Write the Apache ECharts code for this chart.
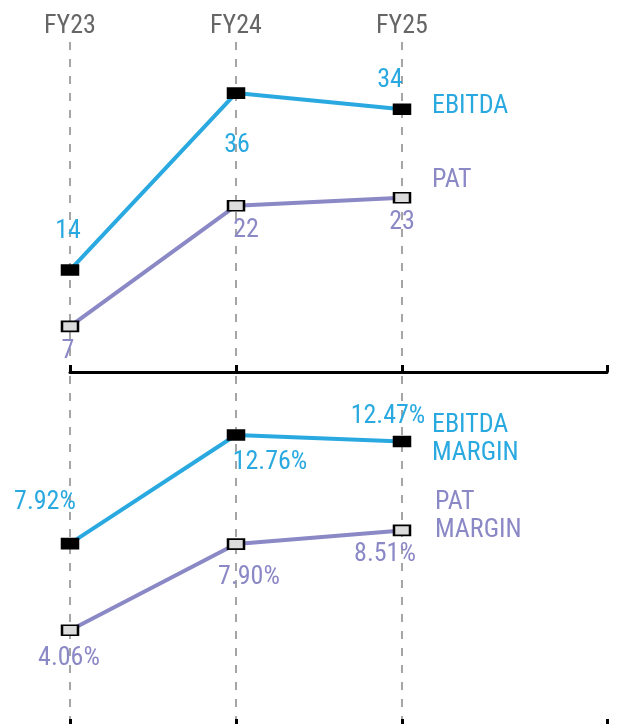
<!DOCTYPE html>
<html><head><meta charset="utf-8">
<script src="https://cdn.jsdelivr.net/npm/echarts@6/dist/echarts.min.js"></script>
<style>html,body{margin:0;padding:0;background:#fff}#c{width:619px;height:724px}</style>
</head><body><div id="c"></div>
<script>
const categories = ['FY23', 'FY24', 'FY25'];
const ebitda = [14, 36, 34];
const pat = [7, 22, 23];
const ebitdaMargin = [7.92, 12.76, 12.47];
const patMargin = [4.06, 7.90, 8.51];

// label offsets (style only)
const offEbitda = [[-2, -39], [1, 52], [-12, -29]];
const offPat = [[-2, 25], [10, 25], [0, 25]];
const offEbitdaM = [[-25, -41], [34, 27], [-14, -25]];
const offPatM = [[-1, 28], [13, 33], [-17, 24]];

function hasFont(f){
  const c=document.createElement('canvas').getContext('2d');
  const t='FY23 EBITDA 12.76% MARGIN';
  c.font='40px monospace'; const a=c.measureText(t).width;
  c.font='40px "'+f+'", monospace'; const b=c.measureText(t).width;
  return Math.abs(a-b)>0.5;
}
let FONT = 'Roboto';
for (const f of ['Roboto Condensed','Liberation Sans Narrow','DejaVu Sans Condensed']) { if (hasFont(f)) { FONT = '"'+f+'"'; break; } }

const BLUE = '#29A9E0', PURPLE = '#8B88C6';
const XMAX = 3.235;

function xs(vals, off){
  return vals.map((v,i)=>({value:[i,v], label:{offset:off[i]}}));
}
function bottomAxis(g){
  return {type:'value', gridIndex:g, min:0, max:XMAX, position:'bottom',
    axisLine:{show:true, onZero:false, lineStyle:{color:'#000', width:3}},
    axisTick:{show:true, inside:true, length:7, customValues:[0,1,2,XMAX], lineStyle:{color:'#000', width:3}},
    axisLabel:{show:false}, splitLine:{show:false}};
}
function topAxis(g, showLabels){
  return {type:'value', gridIndex:g, min:0, max:XMAX, position:'top',
    axisLine:{show:false, onZero:false},
    axisTick:{show:false, customValues:[0,1,2]},
    axisLabel:{show:showLabels, customValues:[0,1,2], margin:3, formatter:v=>categories[Math.round(v)],
      color:'#666', fontSize:26, fontFamily:FONT},
    splitLine:{show:true, lineStyle:{color:'#888', width:1.5, type:[8,9]}}};
}
function lineSeries(name, vals, off, color, fill, g, fmt, endOff){
  return {type:'line', name, xAxisIndex:g*2, yAxisIndex:g, data:xs(vals, off),
    symbol:'rect', symbolSize:[16,10], z:3,
    lineStyle:{color, width:4}, itemStyle:{color:fill, borderColor:'#000', borderWidth:2},
    label:{show:true, position:'inside', formatter:fmt, color, fontSize:26, fontFamily:FONT},
    endLabel:{show:true, formatter:()=>name, color, fontSize:26, fontFamily:FONT, lineHeight:28,
      distance:0, offset:endOff, align:'left'},
    emphasis:{disabled:true}, animation:false};
}

const chart = echarts.init(document.getElementById('c'), null, {renderer:'canvas'});
chart.setOption({
  animation:false,
  grid:[{left:70, right:12, top:42, height:330, outerBoundsMode:'none', containLabel:false},
        {left:70, right:12, top:376, height:350, outerBoundsMode:'none', containLabel:false}],
  xAxis:[bottomAxis(0), topAxis(0,true), bottomAxis(1), topAxis(1,false)],
  yAxis:[{type:'value', gridIndex:0, min:1.33, max:42.35, show:false},
         {type:'value', gridIndex:1, min:-0.205, max:15.39, show:false}],
  series:[
    lineSeries('EBITDA', ebitda, offEbitda, BLUE, '#000', 0, p=>p.value[1], [30,-3]),
    lineSeries('PAT', pat, offPat, PURPLE, '#dcdcdc', 0, p=>p.value[1], [30,-17]),
    lineSeries('EBITDA\nMARGIN', ebitdaMargin, offEbitdaM, BLUE, '#000', 1, p=>p.value[1].toFixed(2)+'%', [30,-2]),
    lineSeries('PAT\nMARGIN', patMargin, offPatM, PURPLE, '#dcdcdc', 1, p=>p.value[1].toFixed(2)+'%', [33,-14])
  ]
});
</script></body></html>
